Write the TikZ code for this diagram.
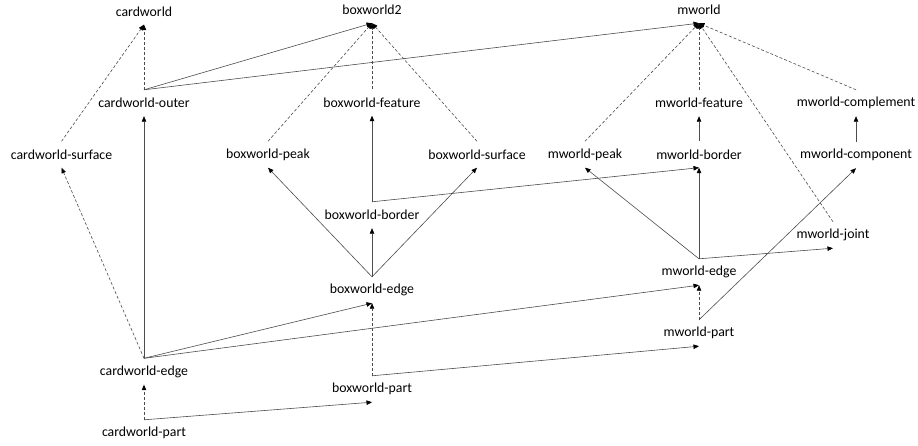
\documentclass[tikz,border=0pt]{standalone}
\usepackage{fontspec}
\setmainfont{Carlito}
\usetikzlibrary{arrows.meta}
\begin{document}
\begin{tikzpicture}[x=1pt,y=-1pt,
  lbl/.style={inner sep=0pt,minimum height=26pt,text=black,font=\fontsize{13.8}{16}\selectfont},
  tip/.style={-{Triangle[length=5.5pt,width=4.5pt,color=black,fill=black]}},
  sol/.style={draw=black!70,line width=0.6pt,tip},
  dsh/.style={draw=black!70,line width=0.6pt,dash pattern=on 3pt off 2pt,tip}]
\useasboundingbox (0,0) rectangle (918,445);
% nodes
\node[lbl] (cw) at (144,11.5) {cardworld};
\node[lbl] (bw2) at (372,10) {boxworld2};
\node[lbl] (mw) at (699,10) {mworld};
\node[lbl] (cwo) at (144,103) {cardworld-outer};
\node[lbl] (bwf) at (372,102.5) {boxworld-feature};
\node[lbl] (mwf) at (699,103) {mworld-feature};
\node[lbl] (mwc) at (856,103) {mworld-complement};
\node[lbl] (cws) at (61.5,154.5) {cardworld-surface};
\node[lbl] (bwp) at (268,154.5) {boxworld-peak};
\node[lbl] (bws) at (477,154.5) {boxworld-surface};
\node[lbl] (mwp) at (585,154.5) {mworld-peak};
\node[lbl] (mwb) at (699,154.5) {mworld-border};
\node[lbl] (mwcp) at (856,155) {mworld-component};
\node[lbl] (bwb) at (372,215) {boxworld-border};
\node[lbl] (mwj) at (833,235) {mworld-joint};
\node[lbl] (mwe) at (699,272) {mworld-edge};
\node[lbl] (bwe) at (372,290) {boxworld-edge};
\node[lbl] (mwpt) at (699,333) {mworld-part};
\node[lbl] (cwe) at (144,371.5) {cardworld-edge};
\node[lbl] (bwpt) at (372,389) {boxworld-part};
\node[lbl] (cwpt) at (144,433) {cardworld-part};
% edges
\draw[sol] (cwo.north) -- (bw2.south);
\draw[sol] (cwo.north) -- (mw.south);
\draw[dsh] (cwo.north) -- (cw.south);
\draw[dsh] (cws.north) -- (cw.south);
\draw[sol] (cwe.north) -- (cwo.south);
\draw[dsh] (cwe.north) -- (cws.south);
\draw[sol] (cwe.north) -- (bwe.south);
\draw[sol] (cwe.north) -- (mwe.south);
\draw[dsh] (cwpt.north) -- (cwe.south);
\draw[sol] (cwpt.north) -- (bwpt.south);
\draw[dsh] (bwpt.north) -- (bwe.south);
\draw[sol] (bwpt.north) -- (mwpt.south);
\draw[sol] (bwe.north) -- (bwp.south);
\draw[sol] (bwe.north) -- (bwb.south);
\draw[sol] (bwe.north) -- (bws.south);
\draw[sol] (bwb.north) -- (bwf.south);
\draw[sol] (bwb.north) -- (mwb.south);
\draw[dsh] (bwp.north) -- (bw2.south);
\draw[dsh] (bwf.north) -- (bw2.south);
\draw[dsh] (bws.north) -- (bw2.south);
\draw[dsh] (mwp.north) -- (mw.south);
\draw[dsh] (mwf.north) -- (mw.south);
\draw[dsh] (mwc.north) -- (mw.south);
\draw[dsh] (mwj.north) -- (mw.south);
\draw[sol] (mwb.north) -- (mwf.south);
\draw[sol] (mwcp.north) -- (mwc.south);
\draw[sol] (mwe.north) -- (mwp.south);
\draw[sol] (mwe.north) -- (mwb.south);
\draw[sol] (mwe.north) -- (mwj.south);
\draw[dsh] (mwpt.north) -- (mwe.south);
\draw[sol] (mwpt.north) -- (mwcp.south);
\end{tikzpicture}
\end{document}
